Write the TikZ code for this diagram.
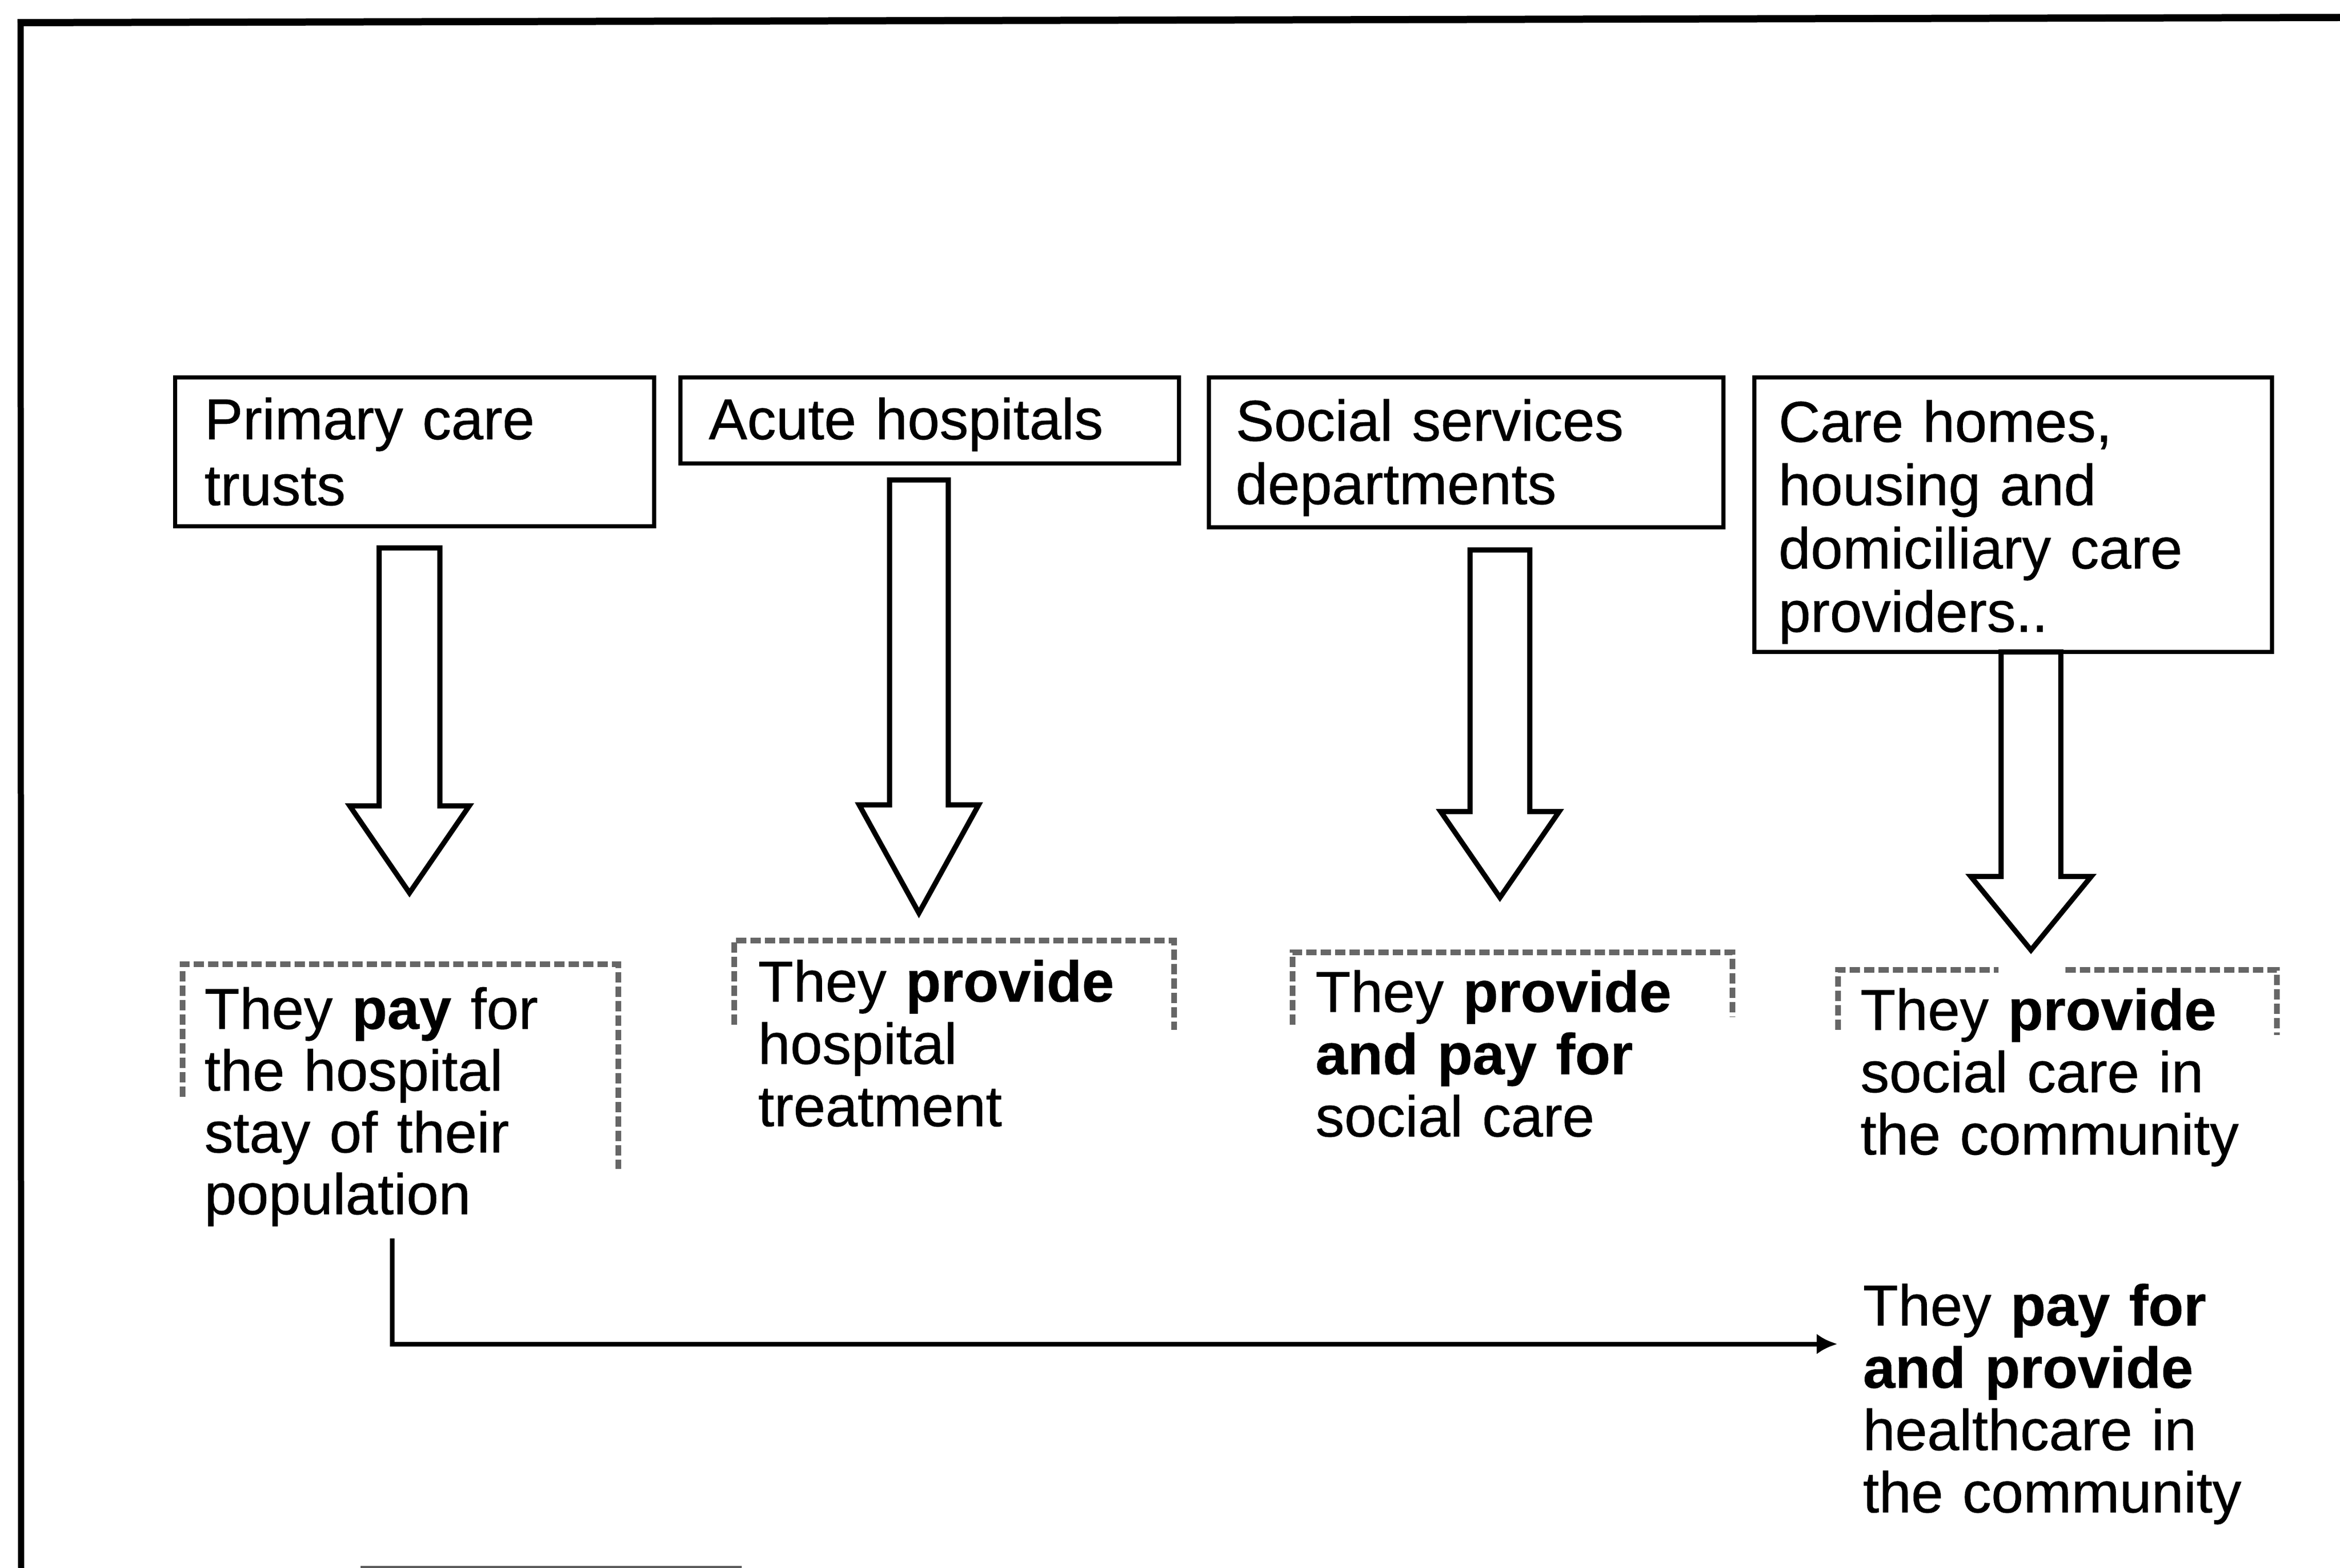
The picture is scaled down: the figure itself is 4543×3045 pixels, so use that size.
\documentclass[tikz,border=0pt]{standalone}
\usepackage{fontspec}
\setmainfont{Liberation Sans}[FakeBold=0.6]
\usetikzlibrary{arrows.meta}
\tikzset{
  box/.style={draw=black, line width=0.85pt, fill=white, rectangle, anchor=north west,
    outer sep=0pt, inner ysep=0pt, align=left, font=\fontsize{11.2pt}{12.8pt}\selectfont},
  lowtext/.style={anchor=base west, inner sep=0pt, outer sep=0pt, align=left,
    font=\fontsize{11.2pt}{12.1pt}\selectfont},
  blockarrow/.style={draw=black, line width=1pt, fill=white, line join=miter},
  conn/.style={draw=black, line width=0.9pt, -{Latex[length=4pt,width=4pt]}},
  scanframe/.style={draw=black!60, line width=1.1pt, dash pattern=on 2pt off 0.8pt},
  frameline/.style={draw=black, line width=1.2pt}
}
\newcommand\BlkArrow[6]{%
  \draw[blockarrow] ({#1-#5},#2) -- ({#1+#5},#2) -- ({#1+#5},#3) -- ({#1+#6},#3)
    -- (#1,#4) -- ({#1-#6},#3) -- ({#1-#5},#3) -- cycle;}
\begin{document}
\begin{tikzpicture}[x=0.1pt, y=-0.1pt]
\useasboundingbox (0,0) rectangle (4543,3045);
% outer frame (cropped)
\draw[frameline] (41,3045) -- (40,42);
\draw[frameline, line width=1.4pt] (34,44) -- (4543,34);
\draw[black!65, line width=0.5pt] (700,3043) -- (1440,3043);

% top boxes
\node[box, text width=81.6pt, inner xsep=5.7pt, text height=12.0pt, text depth=16.9pt] (b1) at (340,733) {Primary care\\trusts};
\node[box, text width=85.8pt, inner xsep=5.5pt, text height=12.0pt, text depth=4.7pt] (b2) at (1321,733) {Acute hospitals};
\node[box, text width=89.5pt, inner xsep=5.2pt, text height=12.3pt, text depth=16.8pt,
  font=\fontsize{11.2pt}{12.3pt}\selectfont] (b3) at (2347,733) {Social services\\departments};
\node[box, text width=91.1pt, inner xsep=4.7pt, text height=12.5pt, text depth=40.8pt,
  font=\fontsize{11.2pt}{12.3pt}\selectfont] (b4) at (3406,733) {Care homes,\\housing and\\domiciliary care\\providers..};

% block arrows
\BlkArrow{795}{1064}{1565}{1734}{59}{116}
\BlkArrow{1784}{932}{1563}{1773}{57}{116}
\BlkArrow{2912}{1068}{1576}{1743}{58}{115}
\BlkArrow{3943}{1266}{1702}{1845}{58}{117}

% faded scanned frames of the lower texts
\draw[scanframe] (354,2130) -- (354,1872) -- (1200,1872) -- (1200,2270);
\draw[scanframe] (1425,1990) -- (1425,1826) -- (2279,1826) -- (2279,2000);
\draw[scanframe] (2509,1990) -- (2509,1849) -- (3363,1849) -- (3363,1975);
\draw[scanframe] (3568,2000) -- (3568,1883) -- (3880,1883);
\draw[scanframe] (4010,1883) -- (4420,1883) -- (4420,2010);

% lower texts
\node[lowtext, text width=73pt, font=\fontsize{11.2pt}{12.0pt}\selectfont] (t1) at (397,1998)
  {They \textbf{pay} for\\the hospital\\stay of their\\population};
\node[lowtext, text width=75pt] (t2) at (1472,1945) {They \textbf{provide}\\hospital\\treatment};
\node[lowtext, text width=75pt] (t3) at (2554,1965) {They \textbf{provide}\\\textbf{and pay for}\\social care};
\node[lowtext, text width=75pt] (t4) at (3612,2000) {They \textbf{provide}\\social care in\\the community};
\node[lowtext, text width=75pt] (t5) at (3617,2574) {They \textbf{pay for}\\\textbf{and provide}\\healthcare in\\the community};

% connector
\coordinate (elbow) at (762,2610);
\draw[conn, shorten >=5pt] ([yshift=-2.4pt]t1.south) |- (t5.west |- elbow);
\end{tikzpicture}
\end{document}
